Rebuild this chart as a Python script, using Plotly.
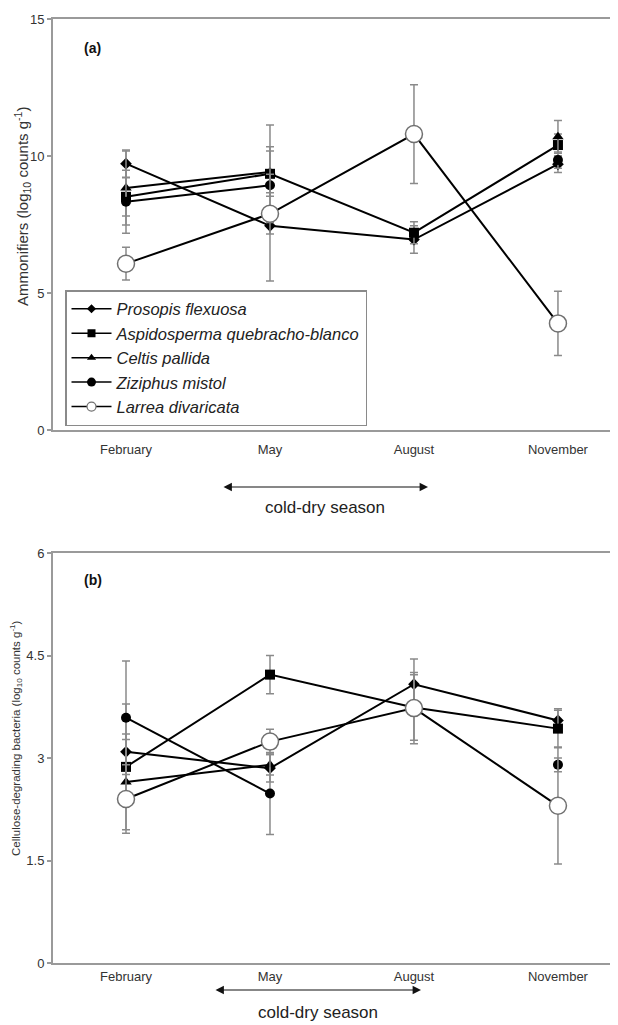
import plotly.graph_objects as go

months = ["February", "May", "August", "November"]
species = ["Prosopis flexuosa", "Aspidosperma quebracho-blanco", "Celtis pallida",
           "Ziziphus mistol", "Larrea divaricata"]

# Panel (a): Ammonifiers (log10 counts g-1)
amm_prosopis = [9.72, 7.45, 6.95, 9.70]
amm_aspido = [8.51, 9.35, 7.20, 10.40]
amm_celtis = [8.83, 9.42, None, 10.70]
amm_ziziphus = [8.33, 8.93, None, 9.85]
amm_larrea = [6.07, 7.89, 10.80, 3.89]
amm_err_prosopis = [0.50, 0.30, 0.50, 0.30]
amm_err_aspido = [0.70, 1.78, 0.40, 0.40]
amm_err_celtis = [1.35, 0.76, 0, 0.60]
amm_err_ziziphus = [1.15, 0.40, 0, 0.30]
amm_err_larrea = [0.60, 2.45, 1.80, 1.17]

# Panel (b): Cellulose-degrading bacteria (log10 counts g-1)
cel_prosopis = [3.09, 2.85, 4.08, 3.55]
cel_aspido = [2.87, 4.22, 3.74, 3.43]
cel_celtis = [2.65, 2.90, None, None]
cel_ziziphus = [3.59, 2.48, None, 2.90]
cel_larrea = [2.40, 3.24, 3.73, 2.30]
cel_err_prosopis = [0.70, 0.20, 0.37, 0.17]
cel_err_aspido = [0.40, 0.28, 0.48, 0.27]
cel_err_celtis = [0.70, 0.15, 0, 0]
cel_err_ziziphus = [0.83, 0.60, 0, 0.10]
cel_err_larrea = [0.50, 0.18, 0.52, 0.85]

yticks_a = [0, 5, 10, 15]
yticks_b = [0, 1.5, 3, 4.5, 6]
ytick_text_b = ["0", "1.5", "3", "4.5", "6"]

# page offset (body margin of the html page)
OFF = 8
W, H = 618 - OFF, 1025 - OFF
ML = 53 - OFF
PW = W - ML
FONT = "Liberation Sans, Arial, sans-serif"
AXCOL = "#9a9a9a"
ERRCOL = "#8a8a8a"

styles = [
    dict(symbol="diamond", size=9, color="black", line=dict(color="black", width=0)),
    dict(symbol="square", size=10, color="black", line=dict(color="black", width=0)),
    dict(symbol="triangle-up", size=10, color="black", line=dict(color="black", width=0)),
    dict(symbol="circle", size=10, color="black", line=dict(color="black", width=0)),
    dict(symbol="circle", size=17, color="white", line=dict(color="#707070", width=1.5)),
]
legend_styles = [
    dict(symbol="diamond", size=7, color="black", line=dict(width=0)),
    dict(symbol="square", size=8, color="black", line=dict(width=0)),
    dict(symbol="triangle-up", size=8, color="black", line=dict(width=0)),
    dict(symbol="circle", size=9, color="black", line=dict(width=0)),
    dict(symbol="circle", size=9, color="white", line=dict(color="#707070", width=1.2)),
]

fig = go.Figure()

panel_a = [amm_prosopis, amm_aspido, amm_celtis, amm_ziziphus, amm_larrea]
err_a = [amm_err_prosopis, amm_err_aspido, amm_err_celtis, amm_err_ziziphus, amm_err_larrea]
panel_b = [cel_prosopis, cel_aspido, cel_celtis, cel_ziziphus, cel_larrea]
err_b = [cel_err_prosopis, cel_err_aspido, cel_err_celtis, cel_err_ziziphus, cel_err_larrea]

for i, name in enumerate(species):
    fig.add_trace(go.Scatter(
        x=months, y=panel_a[i], mode="lines+markers", name=name,
        line=dict(color="black", width=2), marker=styles[i],
        error_y=dict(type="data", array=err_a[i], color=ERRCOL, thickness=1.5, width=4),
        xaxis="x", yaxis="y", showlegend=False, connectgaps=False,
    ))
for i, name in enumerate(species):
    fig.add_trace(go.Scatter(
        x=months, y=panel_b[i], mode="lines+markers", name=name,
        line=dict(color="black", width=2), marker=styles[i],
        error_y=dict(type="data", array=err_b[i], color=ERRCOL, thickness=1.5, width=4),
        xaxis="x2", yaxis="y2", showlegend=False, connectgaps=False,
    ))
# legend-only entries (thin line, small symbol as in the reference key)
for i, name in enumerate(species):
    fig.add_trace(go.Scatter(
        x=[None], y=[None], mode="lines+markers", name="<i>" + name + "</i>",
        line=dict(color="black", width=1.5), marker=legend_styles[i],
        xaxis="x", yaxis="y", showlegend=True, legendgroup=str(i),
    ))

def py(p):
    # page y pixel -> paper fraction
    return (H - (p - OFF)) / H

def pxx(p):
    # page x pixel -> paper fraction
    return (p - OFF - ML) / PW

xcommon = dict(type="category", categoryorder="array", categoryarray=months,
               range=[-0.507, 3.417], showline=True, linecolor=AXCOL, linewidth=2,
               mirror=True, ticks="", showgrid=False, zeroline=False, automargin=False,
               tickfont=dict(family=FONT, size=13, color="#333"))
ycommon = dict(showline=True, linecolor=AXCOL, linewidth=2, ticks="outside",
               ticklen=4, tickcolor=AXCOL, tickwidth=1.5, showgrid=False, zeroline=False,
               automargin=False, tickfont=dict(family=FONT, size=13, color="#333"))

fig.update_layout(
    width=W, height=H, margin=dict(l=ML, r=0, t=0, b=0, autoexpand=False),
    paper_bgcolor="white", plot_bgcolor="white",
    xaxis=dict(domain=[0, 1], anchor="y", ticklabelstandoff=6, **xcommon),
    yaxis=dict(domain=[py(430), py(19)], anchor="x", range=[0, 15],
               tickvals=yticks_a, **ycommon),
    xaxis2=dict(domain=[0, 1], anchor="y2", ticklabelstandoff=0, **xcommon),
    yaxis2=dict(domain=[py(963), py(553)], anchor="x2", range=[0, 6],
                tickvals=yticks_b, ticktext=ytick_text_b, **ycommon),
    legend=dict(x=pxx(65), y=py(290), xanchor="left", yanchor="top",
                bordercolor="#8a8a8a", borderwidth=1.5, bgcolor="white",
                font=dict(family=FONT, size=16.5, color="#222"),
                itemsizing="trace", itemwidth=40, tracegroupgap=0),
    showlegend=True,
)

ann = []
ann.append(dict(text="<b>(a)</b>", x=pxx(82), y=py(48), xref="paper", yref="paper",
                xanchor="left", yanchor="middle", showarrow=False,
                font=dict(family=FONT, size=14, color="#111")))
ann.append(dict(text="<b>(b)</b>", x=pxx(82), y=py(580), xref="paper", yref="paper",
                xanchor="left", yanchor="middle", showarrow=False,
                font=dict(family=FONT, size=14, color="#111")))
ann.append(dict(text="Ammonifiers (log<sub>10</sub> counts g<sup>-1</sup>)",
                x=pxx(23), y=py(207), xref="paper", yref="paper", textangle=-90,
                xanchor="center", yanchor="middle", showarrow=False,
                font=dict(family=FONT, size=15, color="#333")))
ann.append(dict(text="Cellulose-degrading bacteria (log<sub>10</sub> counts g<sup>-1</sup>)",
                x=pxx(16), y=py(738), xref="paper", yref="paper", textangle=-90,
                xanchor="center", yanchor="middle", showarrow=False,
                font=dict(family=FONT, size=11.5, color="#333")))
for (x0, x1, yy, ty) in [(222, 428, 487, 507), (214, 421, 990, 1012)]:
    ann.append(dict(text="", x=pxx(x1), y=py(yy), xref="paper", yref="paper",
                    ax=x0 - x1, ay=0, axref="pixel", ayref="pixel", showarrow=True,
                    arrowhead=2, arrowside="end+start", arrowsize=1.4, arrowwidth=1.2,
                    arrowcolor="#111"))
    ann.append(dict(text="cold-dry season", x=pxx((x0 + x1) / 2), y=py(ty),
                    xref="paper", yref="paper", xanchor="center", yanchor="middle",
                    showarrow=False, font=dict(family=FONT, size=17, color="#222")))
fig.update_layout(annotations=ann)

fig.write_html("out.html")
